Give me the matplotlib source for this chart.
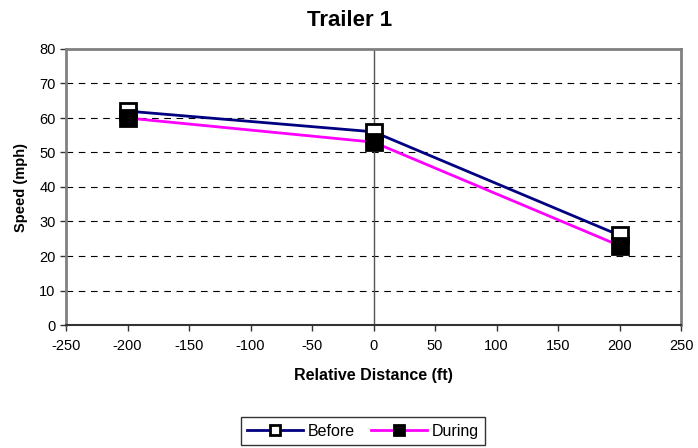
import matplotlib
matplotlib.use("Agg")
import matplotlib.pyplot as plt
from matplotlib.lines import Line2D

plt.rcParams['font.family'] = ['Liberation Sans', 'DejaVu Sans']
plt.rcParams['axes.unicode_minus'] = False

distance = [-200, 0, 200]
before = [62, 56, 26]
during = [60, 53, 23]
x_ticks = [-250, -200, -150, -100, -50, 0, 50, 100, 150, 200, 250]
y_ticks = [0, 10, 20, 30, 40, 50, 60, 70, 80]

fig = plt.figure(figsize=(6.98, 4.48), dpi=100)
ax = fig.add_axes([66/698, 1-325/448, (681-66)/698, (325-49)/448])

for y in y_ticks[1:-1]:
    ax.axhline(y, color='black', lw=0.8, ls=(0, (6, 5)), zorder=1)
ax.axvline(0, color='#555555', lw=1.0, zorder=1)

ax.plot(distance, before, color='#000080', lw=2, marker='s', markersize=12,
        markerfacecolor='white', markeredgecolor='black', markeredgewidth=2, zorder=3)
ax.plot(distance, during, color='#FF00FF', lw=2, marker='s', markersize=12,
        markerfacecolor='black', markeredgecolor='black', markeredgewidth=2, zorder=4)

ax.set_xlim(-250, 250)
ax.set_ylim(0, 80)
ax.set_xticks(x_ticks)
ax.set_yticks(y_ticks)
ax.tick_params(axis='both', labelsize=10.5, direction='out', length=4, width=1, color='#333333')
ax.tick_params(axis='x', pad=6)
for s in ['left', 'right', 'top']:
    ax.spines[s].set_color('#808080')
    ax.spines[s].set_linewidth(2)
ax.spines['bottom'].set_color('#333333')
ax.spines['bottom'].set_linewidth(1.5)

ax.set_xlabel('Relative Distance (ft)', fontsize=11.5, fontweight='bold', labelpad=11)
ax.set_ylabel('Speed (mph)', fontsize=10.5, fontweight='bold', labelpad=8)
fig.text(350/698, 1-21/448, 'Trailer 1', ha='center', va='center', fontsize=16, fontweight='bold')

handles = [
    Line2D([], [], color='#000080', lw=2, marker='s', markersize=7,
           markerfacecolor='white', markeredgecolor='black', markeredgewidth=2),
    Line2D([], [], color='#FF00FF', lw=2, marker='s', markersize=7,
           markerfacecolor='black', markeredgecolor='black', markeredgewidth=2),
]
leg = fig.legend(handles, ['Before', 'During'], loc='center', bbox_to_anchor=(363/698, 1-431/448),
                 ncol=2, fontsize=11.5, frameon=True, fancybox=False, edgecolor='black',
                 handlelength=3.5, handletextpad=0.3, columnspacing=1.0, borderpad=0.4)
leg.get_frame().set_linewidth(1)

fig.savefig('out.png', dpi=100)
